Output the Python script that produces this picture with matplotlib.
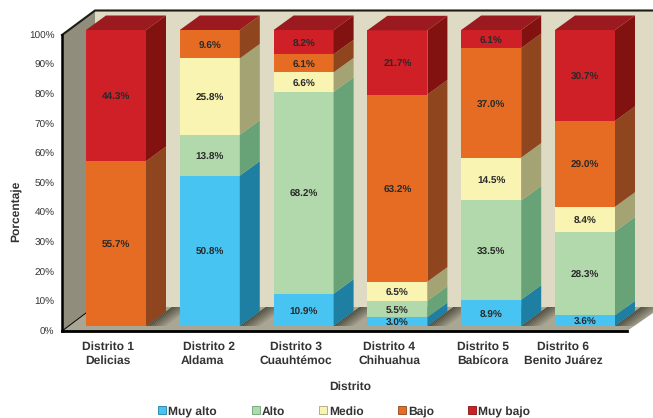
import matplotlib
matplotlib.use('Agg')
import matplotlib.pyplot as plt
from matplotlib.patches import Polygon, Rectangle
from matplotlib.transforms import Affine2D, IdentityTransform

plt.rcParams['font.family'] = ['Liberation Sans', 'DejaVu Sans']
plt.rcParams['text.hinting'] = 'none'
plt.rcParams['text.hinting_factor'] = 1

W, H = 653, 418

niveles = ['Muy alto', 'Alto', 'Medio', 'Bajo', 'Muy bajo']
muy_alto = [0, 50.8, 10.9, 3.0, 8.9, 3.6]
alto = [0, 13.8, 68.2, 5.5, 33.5, 28.3]
medio = [0, 25.8, 6.6, 6.5, 14.5, 8.4]
bajo = [55.7, 9.6, 6.1, 63.2, 37.0, 29.0]
muy_bajo = [44.3, 0, 8.2, 21.7, 6.1, 30.7]
series = [muy_alto, alto, medio, bajo, muy_bajo]

linea1 = ['Distrito 1', 'Distrito 2', 'Distrito 3', 'Distrito 4', 'Distrito 5', 'Distrito 6']
linea2 = ['Delicias', 'Aldama', 'Cuauhtémoc', 'Chihuahua', 'Babícora', 'Benito Juárez']
yticks = [0, 10, 20, 30, 40, 50, 60, 70, 80, 90, 100]

front = ['#48c4f2', '#b2d9ac', '#f9f4b2', '#e66c23', '#cf1f27']
side = ['#1f7fa3', '#68a277', '#a3a373', '#8f451d', '#82120f']
top_color = '#9b1a1f'
text_color = '#333333'

# pixel layout
step = 93.8
bar_w = 60
depth_x, depth_y = 20, 14.5


def py(y):
    return H - y


fig = plt.figure(figsize=(W / 100, H / 100), dpi=100)
ax = fig.add_axes([62 / W, 1 - 331 / H, (627 - 62) / W, (331 - 35) / H])
ax.set_zorder(2)
ax.set_xlim((62 - 116) / step, (627 - 116) / step)
ax.set_ylim(0, 100)
ax.patch.set_visible(False)
for s in ax.spines.values():
    s.set_visible(False)

px = IdentityTransform()


def furniture(pts, color, z=0):
    fig.add_artist(Polygon([(x, py(y)) for x, y in pts], closed=True, fc=color, ec='none',
                           transform=px, zorder=z))


# walls and floor
furniture([(95, 11), (653, 11), (653, 313), (95, 307)], '#dedac3')
furniture([(62, 35), (95, 11), (95, 307), (62, 331)], '#908d7c')
furniture([(62, 331), (95, 307), (653, 307), (653, 313), (627, 331)], '#aaa694')

# soft shadow on the floor right of each bar
for i in range(6):
    x0 = 116 + step * i + bar_w / 2
    for k in range(10):
        d = k * 2.0
        furniture([(x0 + d, 326), (x0 + 26 + d, 307), (x0 + 28 + d, 307), (x0 + 2 + d, 326)],
                  (0.22, 0.21, 0.16, 0.8 * (1 - k / 10)), 1)

# bars sit a little above and behind the front edge of the floor
lift = Affine2D().translate(0, 5)
tr = ax.transData + lift
tr_text = ax.transData + Affine2D().translate(0, 3)
w = bar_w / step
ddx = depth_x / step
ddy = depth_y / 2.96

bottoms = [0] * 6
for j, vals in enumerate(series):
    ax.bar(range(6), vals, width=w, bottom=bottoms, color=front[j], edgecolor='none',
           transform=tr, zorder=3, clip_on=False)
    for i, v in enumerate(vals):
        if v == 0:
            continue
        b = bottoms[i]
        r = i + w / 2
        ax.add_patch(Polygon([(r, b), (r + ddx, b + ddy), (r + ddx, b + v + ddy), (r, b + v)],
                             closed=True, fc=side[j], ec='none', transform=tr, zorder=3,
                             clip_on=False))
        ax.text(i, b + v / 2, '%.1f%%' % v, ha='center', va='center', fontsize=7.4,
                fontweight='bold', color='#2a2a2a', transform=tr_text, zorder=5)
    bottoms = [b + v for b, v in zip(bottoms, vals)]

for i in range(6):
    t = bottoms[i]
    l, r = i - w / 2, i + w / 2
    ax.add_patch(Polygon([(l, t), (l + ddx, t + ddy), (r + ddx, t + ddy), (r, t)], closed=True,
                         fc=top_color, ec='none', transform=tr, zorder=4, clip_on=False))

# frame lines
fig.add_artist(plt.Line2D([62, 95, 653], [py(35), py(10.5), py(10.5)], color='#1c1c14', lw=1.5,
                          transform=px, zorder=6))
fig.add_artist(plt.Line2D([62, 62], [py(35), py(331)], color='black', lw=1.8, transform=px, zorder=6))
fig.add_artist(plt.Line2D([62, 627], [py(331), py(331)], color='black', lw=2, transform=px, zorder=6))
fig.add_artist(plt.Line2D([62, 86], [py(331), py(313)], color='black', lw=0.7, transform=px, zorder=1))

ax.set_yticks(yticks)
ax.set_yticklabels(['%d%%' % v for v in yticks], fontsize=7, color=text_color, va='center_baseline')
ax.tick_params(axis='y', length=0, pad=5.5)
ax.set_xticks([])

# category labels, centred by hand as in the original
centros1 = [108, 209, 296, 389, 483, 563]
centros2 = [108, 202, 296, 389, 483, 563]
for i in range(6):
    fig.text(centros1[i] / W, py(347) / H, linea1[i], ha='center', va='center', fontsize=8.6,
             fontweight='bold', color=text_color)
    fig.text(centros2[i] / W, py(361) / H, linea2[i], ha='center', va='center', fontsize=8.6,
             fontweight='bold', color=text_color)

fig.text(350 / W, py(387) / H, 'Distrito', ha='center', va='center', fontsize=8.6,
         fontweight='bold', color=text_color)
fig.text(17 / W, py(211) / H, 'Porcentaje', ha='center', va='center', rotation=90, fontsize=8.6,
         fontweight='bold', color=text_color)

# legend
leg_x = [158, 252, 319, 398, 468]
for x, name, c, e in zip(leg_x, niveles, front, side):
    fig.add_artist(Rectangle((x, py(414)), 8, 8, fc=c, ec=e, lw=0.6, transform=px))
    fig.text((x + 10) / W, py(412) / H, name, ha='left', va='center', fontsize=8.6,
             fontweight='bold', color=text_color)

fig.savefig('out.png', dpi=100)
